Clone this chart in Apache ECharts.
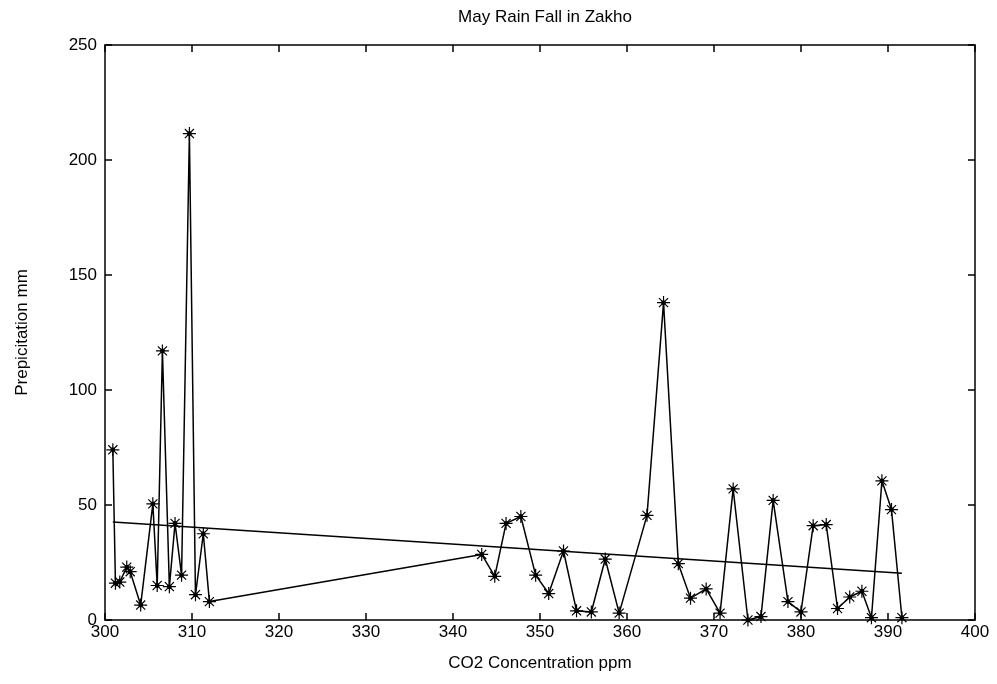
<!DOCTYPE html>
<html>
<head>
<meta charset="utf-8">
<script src="https://cdn.jsdelivr.net/npm/echarts@6/dist/echarts.min.js"></script>
<style>
  html, body { margin: 0; padding: 0; background: #fff; }
  #chart { width: 997px; height: 684px; }
</style>
</head>
<body>
<div id="chart"></div>
<script>
// May rainfall in Zakho vs CO2 concentration
var co2 = [300.9, 301.2, 301.7, 302.5, 302.9, 304.1, 305.5, 306.0, 306.6, 307.4,
  308.05, 308.8, 309.7, 310.4, 311.3, 312.0,
  343.3, 344.8, 346.1, 347.8, 349.5, 351.0, 352.7, 354.2, 355.9, 357.5, 359.1,
  362.3, 364.2, 365.9, 367.3, 369.1, 370.7, 372.2, 373.9, 375.4, 376.8, 378.5,
  380.0, 381.4, 382.9, 384.2, 385.6, 387.0, 388.1, 389.3, 390.4, 391.6];
var rain = [74, 16, 16.5, 23, 21, 6.5, 50.5, 15, 117, 14.5,
  42, 19.5, 211.5, 11, 37.5, 8,
  28.5, 19, 42, 45, 19.5, 11.5, 30, 4, 3.5, 26.5, 3,
  45.5, 138, 24.5, 9.5, 13.5, 3, 57, 0, 1.5, 52, 8,
  3.5, 41, 41.5, 5, 10, 12.5, 1, 60.5, 48, 1];
var xTicks = [300, 310, 320, 330, 340, 350, 360, 370, 380, 390, 400];
var yTicks = [0, 50, 100, 150, 200, 250];

(function () {
  var font = '"Liberation Sans Narrow", "Liberation Sans", Arial, sans-serif';
  var ink = '#000';

  var points = co2.map(function (x, i) { return [x, rain[i]]; });

  // least squares fit of rainfall against CO2
  var n = co2.length, sx = 0, sy = 0, sxx = 0, sxy = 0;
  for (var i = 0; i < n; i++) {
    sx += co2[i]; sy += rain[i];
    sxx += co2[i] * co2[i]; sxy += co2[i] * rain[i];
  }
  var slope = (n * sxy - sx * sy) / (n * sxx - sx * sx);
  var icpt = (sy - slope * sx) / n;
  var x0 = co2[0], x1 = co2[n - 1];
  var fit = [[x0, icpt + slope * x0], [x1, icpt + slope * x1]];

  var star = 'path://M0,-6L0,6M-6,0L6,0M-4.2,-4.2L4.2,4.2M-4.2,4.2L4.2,-4.2M-1.5,-1.5L1.5,-1.5L1.5,1.5L-1.5,1.5Z';

  function xAx(pos, labels) {
    return {
      type: 'value', position: pos,
      min: xTicks[0], max: xTicks[xTicks.length - 1], interval: xTicks[1] - xTicks[0],
      name: labels ? 'CO2 Concentration ppm' : '',
      nameLocation: 'middle', nameGap: 35,
      nameTextStyle: { color: ink, fontFamily: font, fontSize: 17 },
      axisLine: { show: true, onZero: false, lineStyle: { color: ink, width: 1.5 } },
      axisTick: { show: true, inside: true, length: 7, lineStyle: { color: ink, width: 1.5 } },
      axisLabel: { show: labels, color: ink, fontFamily: font, fontSize: 17, margin: 4 },
      splitLine: { show: false }
    };
  }
  function yAx(pos, labels) {
    return {
      type: 'value', position: pos,
      min: yTicks[0], max: yTicks[yTicks.length - 1], interval: yTicks[1] - yTicks[0],
      name: labels ? 'Prepicitation mm' : '',
      nameLocation: 'middle', nameGap: 74, nameRotate: 90,
      nameTextStyle: { color: ink, fontFamily: font, fontSize: 17 },
      axisLine: { show: true, onZero: false, lineStyle: { color: ink, width: 1.5 } },
      axisTick: { show: true, inside: true, length: 7, lineStyle: { color: ink, width: 1.5 } },
      axisLabel: { show: labels, color: ink, fontFamily: font, fontSize: 17, margin: 8 },
      splitLine: { show: false }
    };
  }

  var chart = echarts.init(document.getElementById('chart'), null, { renderer: 'canvas' });
  chart.setOption({
    animation: false,
    backgroundColor: '#fff',
    title: {
      text: 'May Rain Fall in Zakho', left: 540, top: 4, textAlign: 'center',
      textStyle: { color: ink, fontFamily: font, fontSize: 17, fontWeight: 'normal' }
    },
    grid: { left: 105, right: 22, top: 45, bottom: 64 },
    xAxis: [xAx('bottom', true), xAx('top', false)],
    yAxis: [yAx('left', true), yAx('right', false)],
    series: [{
      type: 'line',
      data: points,
      symbol: star,
      symbolSize: 13,
      showAllSymbol: true,
      lineStyle: { color: ink, width: 1.5 },
      itemStyle: { color: ink, borderColor: ink, borderWidth: 1.2 }
    }, {
      type: 'line',
      data: fit,
      symbol: 'none',
      lineStyle: { color: ink, width: 1.5 }
    }]
  });
})();
</script>
</body>
</html>
